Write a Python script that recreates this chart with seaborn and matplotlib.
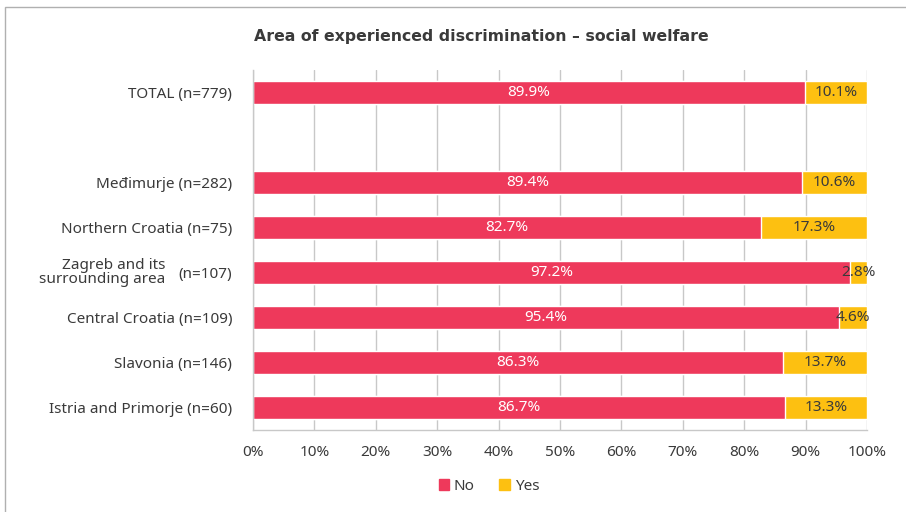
import numpy as np
import pandas as pd
import matplotlib
matplotlib.use("Agg")
import matplotlib.pyplot as plt
import seaborn as sns
from matplotlib.patches import Rectangle, Patch

sns.set_style("white")
plt.rcParams['font.family'] = ['Noto Sans', 'DejaVu Sans']

# data (top to bottom)
regions = ["TOTAL (n=779)", "", "Međimurje (n=282)", "Northern Croatia (n=75)",
           "(n=107)", "Central Croatia (n=109)", "Slavonia (n=146)",
           "Istria and Primorje (n=60)"]
no_vals = [89.9, np.nan, 89.4, 82.7, 97.2, 95.4, 86.3, 86.7]
yes_vals = [10.1, np.nan, 10.6, 17.3, 2.8, 4.6, 13.7, 13.3]
x_ticks = list(range(0, 101, 10))

RED = "#EE395B"
YELLOW = "#FDC011"
TXT = "#3a3a3a"
GRID = "#c8c8c8"
FS = 11

df = pd.DataFrame({"region": regions, "No": no_vals, "Yes": yes_vals})
df["total"] = df["No"] + df["Yes"]

fig = plt.figure(figsize=(9.06, 5.12), dpi=100)
ax = fig.add_axes([253 / 906, 1 - 430 / 512, 614 / 906, 360 / 512])

ypos = np.arange(len(regions))
sns.barplot(x="total", y="region", data=df, color=YELLOW, width=0.5,
            orient="h", ax=ax, order=regions, saturation=1, errorbar=None)
sns.barplot(x="No", y="region", data=df, color=RED, width=0.5,
            orient="h", ax=ax, order=regions, saturation=1, errorbar=None)

for i, (n, y) in enumerate(zip(no_vals, yes_vals)):
    if np.isnan(n):
        continue
    ax.text(n / 2, i, f"{n:.1f}%", color="white", ha="center", va="center", fontsize=FS)
    ax.text(n + y / 2, i, f"{y:.1f}%", color=TXT, ha="center", va="center", fontsize=FS)

ax.set_xlim(0, 100)
ax.set_ylim(len(regions) - 0.5, -0.5)
ax.set_xticks(x_ticks)
ax.set_xticklabels([f"{t}%" for t in x_ticks], color=TXT, fontsize=FS)
ax.set_yticks(ypos)
ax.set_yticklabels(regions, color=TXT, fontsize=FS)
ax.tick_params(axis="y", length=0, pad=15)
ax.tick_params(axis="x", length=0, pad=11)
ax.set_xlabel("")
ax.set_ylabel("")
ax.xaxis.grid(True, color=GRID, linewidth=1)
ax.set_axisbelow(True)
for s in ["top", "right"]:
    ax.spines[s].set_visible(False)
for s in ["left", "bottom"]:
    ax.spines[s].set_color(GRID)
    ax.spines[s].set_linewidth(1)

# two-line region name for Zagreb
zag_idx = regions.index("(n=107)")
ax.annotate("Zagreb and its\nsurrounding area", xy=(0, zag_idx), xycoords=("axes fraction", "data"),
            xytext=(-63, 0), textcoords="offset points", ha="right", va="center",
            color=TXT, fontsize=FS, linespacing=0.95)

fig.text(481 / 906, 1 - 36 / 512, "Area of experienced discrimination – social welfare",
         ha="center", va="center", fontsize=11.3, fontweight="bold", color=TXT,
         family=["DejaVu Sans"])

handles = [Patch(color=RED, label="No"), Patch(color=YELLOW, label="Yes")]
fig.legend(handles=handles, loc="center", bbox_to_anchor=(489 / 906, 1 - 486 / 512), ncol=2,
           frameon=False, fontsize=FS, handlelength=0.7, handleheight=0.7,
           handletextpad=0.3, columnspacing=1.6, labelcolor=TXT)

fig.patches.append(Rectangle((5 / 906, -0.1), 1.5, 1 - 7 / 512 + 0.1, transform=fig.transFigure,
                             fill=False, edgecolor="#b0b0b0", linewidth=1))

fig.savefig("out.png", dpi=100)
